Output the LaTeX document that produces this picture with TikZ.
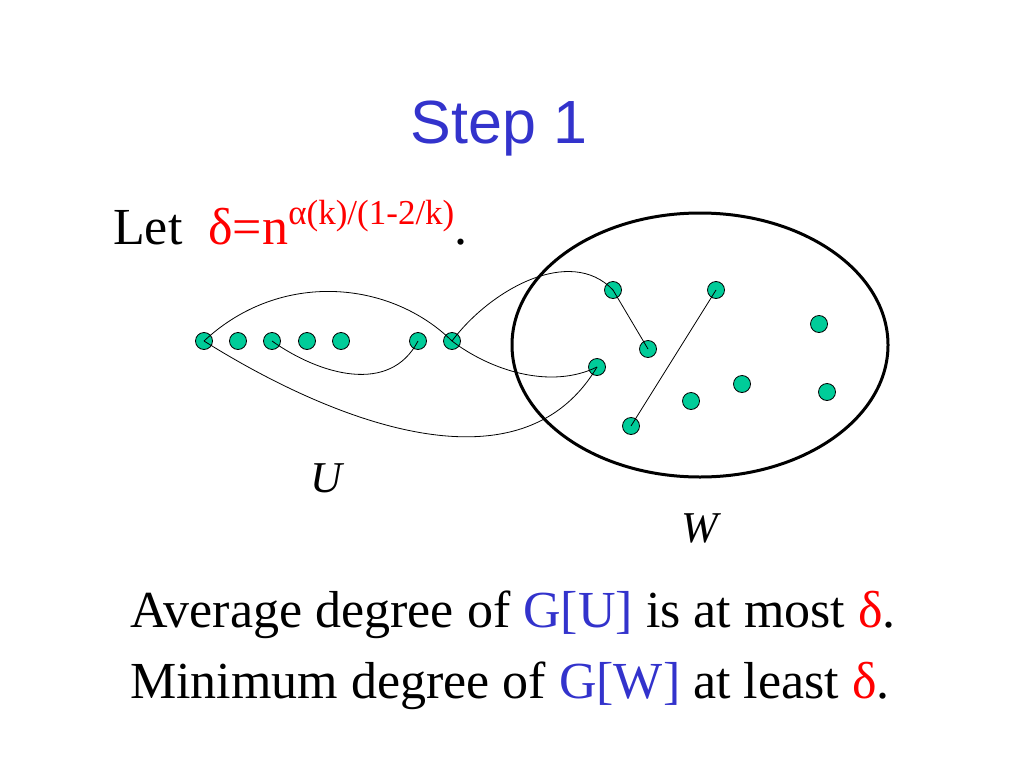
\documentclass[tikz,border=0pt]{standalone}
\usepackage{fontspec}
\setmainfont{Liberation Serif}
\newfontfamily\titlefont{Liberation Sans}
\usetikzlibrary{shapes.geometric}
\definecolor{slideblue}{HTML}{3333CC}
\definecolor{vgreen}{HTML}{00CC99}
\tikzset{
  vert/.style={circle, draw=black, line width=0.8pt, fill=vgreen, minimum size=17pt, inner sep=0pt},
  edge/.style={line width=0.8pt},
  txt/.style={anchor=base west, inner sep=0pt, font=\fontsize{52}{60}\selectfont},
}
\begin{document}
\begin{tikzpicture}[x=1pt, y=-1pt]
\useasboundingbox (0,0) rectangle (1024,768);
% title
\node[anchor=base, inner sep=0pt, text=slideblue, font=\titlefont\fontsize{61}{70}\selectfont] (title) at (499,143) {Step 1};
% Let line
\node[txt] (let) at (113,244) {Let\ \ {\color{red}δ=n\raisebox{20pt}{\fontsize{35}{35}\selectfont α(k)/(1-2/k)}}.};
% W set
\node[draw, ellipse, line width=3pt, minimum width=376pt, minimum height=264pt, inner sep=0pt] (Wset) at (700,345) {};
% U vertices
\node[vert] (u1) at (204,341) {};
\node[vert] (u2) at (238,341) {};
\node[vert] (u3) at (272,341) {};
\node[vert] (u4) at (307,341) {};
\node[vert] (u5) at (341,341) {};
\node[vert] (u6) at (418,341) {};
\node[vert] (u7) at (452,341) {};
% W vertices
\node[vert] (w1) at (613,290) {};
\node[vert] (w2) at (716,290) {};
\node[vert] (w3) at (648,349) {};
\node[vert] (w4) at (597,367) {};
\node[vert] (w5) at (819,324) {};
\node[vert] (w6) at (742,384) {};
\node[vert] (w7) at (691,401) {};
\node[vert] (w8) at (827,392) {};
\node[vert] (w9) at (631,426) {};
% edges
\draw[edge] (u1.center) .. controls (280,270) and (390,280) .. (u7.center);
\draw[edge] (u1.center) .. controls (330,420) and (520,497) .. (w4.center);
\draw[edge] (u3.center) .. controls (320,375) and (390,395) .. (u6.center);
\draw[edge] (u7.center) .. controls (490,290) and (570,245) .. (w1.center);
\draw[edge] (u7.center) .. controls (490,370) and (550,390) .. (w4.center);
\draw[edge] (w1.center) -- (w3.center);
\draw[edge] (w2.center) -- (w9.center);
% labels
\node[anchor=base, inner sep=0pt, font=\itshape\fontsize{44}{50}\selectfont] (ulab) at (326,492) {U};
\node[anchor=base, inner sep=0pt, font=\itshape\fontsize{44}{50}\selectfont] (wlab) at (700,542) {W};
% bottom text
\node[txt] (line1) at (130,627) {Average degree of {\color{slideblue}G[U]} is at most {\color{red}δ}.};
\node[txt] (line2) at (130,698) {Minimum degree of {\color{slideblue}G[W]} at least {\color{red}δ}.};
\end{tikzpicture}
\end{document}
